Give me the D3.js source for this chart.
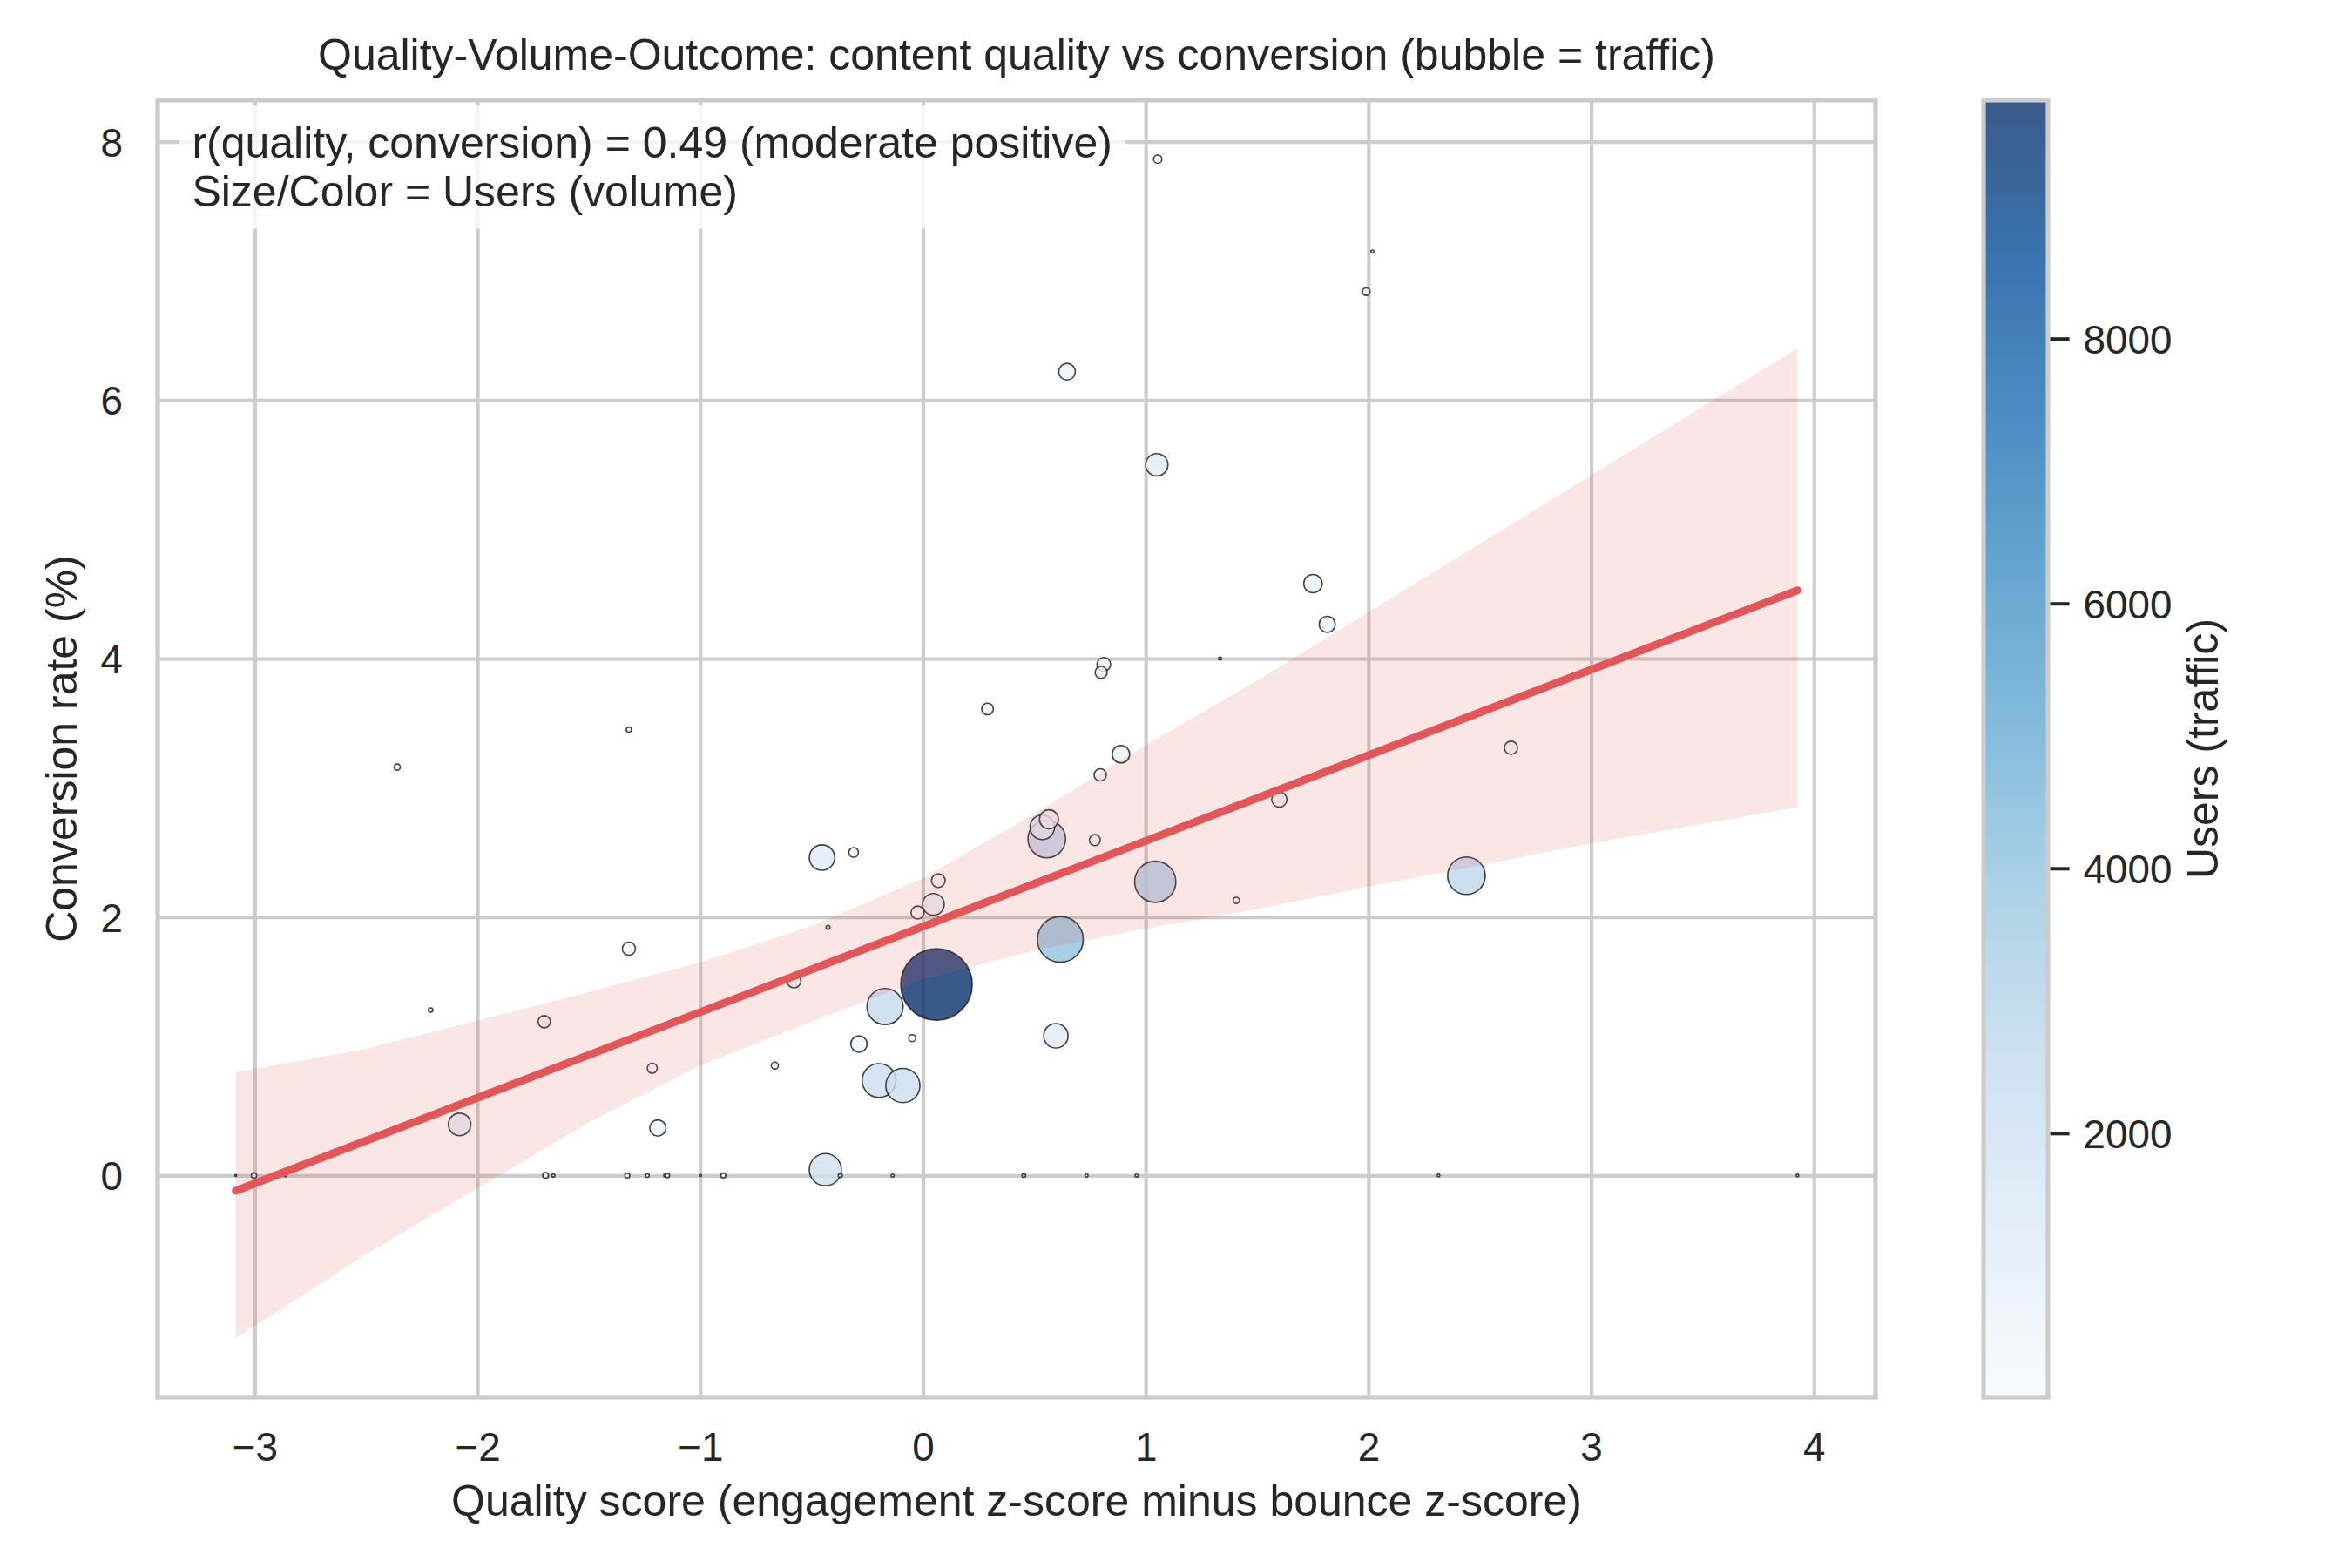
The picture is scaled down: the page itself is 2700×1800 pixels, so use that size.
<!DOCTYPE html>
<html>
<head>
<meta charset="utf-8">
<script src="https://cdn.jsdelivr.net/npm/d3@7"></script>
<style>
  body { margin: 0; background: #fff; }
  text { font-family: "Liberation Sans", Arial, sans-serif; fill: #262626; }
</style>
</head>
<body>
<div id="chart"></div>
<script>
// values
var quality = [-2.36, -1.32, -1.32, -2.21, -1.70, -1.215, -0.665, -2.08, -1.19,
               -0.453, -0.311, -0.426, -0.579, -0.287, -0.438,
               0.812, 0.80, 1.334, 0.29, 0.889, 0.796, 0.556, 0.536, 0.566, 0.772, 1.043, 1.407,
               0.069, 0.047, -0.024, 0.061, 0.617, -0.170, -0.048, 0.597, -0.197, -0.09,
               1.054, 2.018, 1.99, 0.647, 1.05, 1.751, 1.815, 1.60, 2.64, 2.44,
               -3.085, -3.003, -2.862, -1.694, -1.659, -1.327, -1.237, -1.158, -1.147,
               -0.999, -0.896, -0.371, -0.136, 0.453, 0.735, 0.959, 2.315, 3.926];
var conversion = [3.16, 3.45, 1.755, 1.28, 1.19, 0.83, 0.85, 0.395, 0.367,
                  2.46, 2.50, 1.92, 1.506, 1.017, 0.045,
                  3.956, 3.893, 4.0, 3.61, 3.26, 3.10, 2.604, 2.695, 2.756, 2.595, 2.273, 2.129,
                  2.282, 2.098, 2.035, 1.478, 1.827, 1.307, 1.063, 1.081, 0.735, 0.696,
                  7.865, 7.15, 6.84, 6.22, 5.50, 4.58, 4.265, 2.909, 3.31, 2.32,
                  0, 0, 0, 0, 0, 0, 0, 0, 0,
                  0, 0, 0, 0, 0, 0, 0, 0, 0];
var users = [72, 53, 331, 37, 288, 191, 94, 972, 504,
             1238, 178, 30, 377, 515, 1982,
             358, 276, 17, 260, 589, 288, 2721, 1154, 693, 230, 3251, 76,
             358, 905, 322, 9800, 4026, 2498, 94, 1146, 2193, 2239,
             133, 17, 111, 531, 957, 649, 498, 446, 331, 2709,
             6, 53, 13, 62, 18, 45, 24, 13, 37,
             9, 45, 30, 17, 25, 17, 17, 13, 13];

// bootstrap confidence band edges
var bandX    = [-3.085, -2.5, -2.0, -1.5, -1.0, -0.5, 0, 0.5, 1.0, 1.5, 2.0, 2.5, 3.0, 3.5, 3.926];
var bandHigh = [0.80, 0.98, 1.20, 1.42, 1.65, 1.93, 2.30, 2.80, 3.33, 3.83, 4.36, 4.89, 5.42, 5.95, 6.40];
var bandLow  = [-1.26, -0.61, -0.10, 0.41, 0.85, 1.19, 1.52, 1.74, 1.91, 2.06, 2.235, 2.40, 2.57, 2.72, 2.85];

var xTicks = [-3, -2, -1, 0, 1, 2, 3, 4];
var yTicks = [0, 2, 4, 6, 8];
var cbarTicks = [2000, 4000, 6000, 8000];
var blues = ["#f7fbff", "#deebf7", "#c6dbef", "#9ecae1", "#6baed6",
             "#4292c6", "#2171b5", "#08519c", "#08306b"];

var W = 2700, H = 1800,
    axL = 181, axR = 2153, axT = 115, axB = 1604,
    cbL = 2277, cbR = 2351,
    gridColor = "#cccccc",
    lineColor = "#e15759";

var pts = quality.map(function(q, i) { return {x: q, y: conversion[i], u: users[i]}; });

// matplotlib-like autoscale: data extent plus 5% margins
var xExt = d3.extent(quality), xPad = (xExt[1] - xExt[0]) * 0.05;
var yMin = Math.min(d3.min(conversion), d3.min(bandLow)),
    yMax = Math.max(d3.max(conversion), d3.max(bandHigh)),
    yPad = (yMax - yMin) * 0.05;

var x = d3.scaleLinear().domain([xExt[0] - xPad, xExt[1] + xPad]).range([axL, axR]);
var y = d3.scaleLinear().domain([yMin - yPad, yMax + yPad]).range([axB, axT]);

var uExt = d3.extent(users);
var color = d3.scaleLinear()
    .domain(blues.map(function(c, i) { return uExt[0] + (uExt[1] - uExt[0]) * i / (blues.length - 1); }))
    .range(blues)
    .interpolate(d3.interpolateRgb);
var radius = d3.scaleSqrt().domain([0, uExt[1]]).range([0, 41]);
var cbScale = d3.scaleLinear().domain(uExt).range([axB, axT]);

// least squares fit and correlation
var mx = d3.mean(quality), my = d3.mean(conversion);
var sxy = d3.sum(pts, function(p) { return (p.x - mx) * (p.y - my); }),
    sxx = d3.sum(pts, function(p) { return (p.x - mx) * (p.x - mx); }),
    syy = d3.sum(pts, function(p) { return (p.y - my) * (p.y - my); });
var slope = sxy / sxx, intercept = my - slope * mx;
var corr = sxy / Math.sqrt(sxx * syy);

var svg = d3.select("#chart").append("svg")
    .attr("width", W)
    .attr("height", H);

svg.append("rect").attr("width", W).attr("height", H).attr("fill", "#fff");

var minus = function(d) { return d < 0 ? "\u2212" + Math.abs(d) : String(d); };

// grid + tick labels
var xAxis = svg.append("g")
    .attr("transform", "translate(0," + axB + ")")
    .call(d3.axisBottom(x).tickValues(xTicks).tickSize(-(axB - axT)).tickPadding(40.5).tickFormat(minus));
var yAxis = svg.append("g")
    .attr("transform", "translate(" + axL + ",0)")
    .call(d3.axisLeft(y).tickValues(yTicks).tickSize(-(axR - axL)).tickPadding(40).tickFormat(minus));

[xAxis, yAxis].forEach(function(g) {
  g.select(".domain").remove();
  g.selectAll(".tick line").attr("stroke", gridColor).attr("stroke-width", 4.17);
  g.selectAll(".tick text").attr("font-size", 45.8).attr("fill", "#262626")
      .style("font-family", '"Liberation Sans", Arial, sans-serif');
});
yAxis.selectAll(".tick text").attr("dy", "0.36em");

// bubbles
svg.append("g").selectAll("circle")
    .data(pts)
    .enter().append("circle")
    .attr("cx", function(d) { return x(d.x); })
    .attr("cy", function(d) { return y(d.y); })
    .attr("r", function(d) { return radius(d.u); })
    .attr("fill", function(d) { return color(d.u); })
    .attr("fill-opacity", 0.8)
    .attr("stroke", "#111")
    .attr("stroke-opacity", 0.8)
    .attr("stroke-width", 1.6);

// confidence band
var band = d3.area()
    .x(function(d) { return x(d); })
    .y0(function(d, i) { return y(bandLow[i]); })
    .y1(function(d, i) { return y(bandHigh[i]); });
svg.append("path")
    .datum(bandX)
    .attr("d", band)
    .attr("fill", lineColor)
    .attr("fill-opacity", 0.15);

// regression line
svg.append("line")
    .attr("x1", x(xExt[0])).attr("y1", y(intercept + slope * xExt[0]))
    .attr("x2", x(xExt[1])).attr("y2", y(intercept + slope * xExt[1]))
    .attr("stroke", lineColor)
    .attr("stroke-width", 9)
    .attr("stroke-linecap", "round");

// spines
svg.append("rect")
    .attr("x", axL).attr("y", axT)
    .attr("width", axR - axL).attr("height", axB - axT)
    .attr("fill", "none")
    .attr("stroke", gridColor)
    .attr("stroke-width", 5.2);

// annotation box
var note = svg.append("g");
var noteBox = note.append("rect").attr("fill", "#fff").attr("fill-opacity", 0.8);
var noteText = note.append("text").attr("font-size", 50);
noteText.append("tspan").attr("x", 220.4).attr("y", 181)
    .text("r(quality, conversion) = " + d3.format(".2f")(corr) + " (moderate positive)");
noteText.append("tspan").attr("x", 220.4).attr("y", 236.6)
    .text("Size/Color = Users (volume)");
var bb = noteText.node().getBBox();
noteBox.attr("x", bb.x - 15).attr("y", bb.y - 15)
    .attr("width", bb.width + 30).attr("height", bb.height + 30)
    .attr("rx", 15).attr("ry", 15);

// title and axis labels
svg.append("text")
    .attr("x", (axL + axR) / 2).attr("y", 80)
    .attr("text-anchor", "middle").attr("font-size", 50)
    .text("Quality-Volume-Outcome: content quality vs conversion (bubble = traffic)");
svg.append("text")
    .attr("x", (axL + axR) / 2).attr("y", 1740)
    .attr("text-anchor", "middle").attr("font-size", 50)
    .text("Quality score (engagement z-score minus bounce z-score)");
svg.append("text")
    .attr("transform", "translate(88," + (axT + axB) / 2 + ") rotate(-90)")
    .attr("text-anchor", "middle").attr("font-size", 50)
    .text("Conversion rate (%)");

// colorbar
var grad = svg.append("defs").append("linearGradient")
    .attr("id", "cbar-gradient")
    .attr("x1", "0%").attr("y1", "100%")
    .attr("x2", "0%").attr("y2", "0%");
blues.forEach(function(c, i) {
  grad.append("stop")
      .attr("offset", (i / (blues.length - 1) * 100) + "%")
      .attr("stop-color", c)
      .attr("stop-opacity", 0.8);
});
svg.append("rect")
    .attr("x", cbL).attr("y", axT)
    .attr("width", cbR - cbL).attr("height", axB - axT)
    .attr("fill", "url(#cbar-gradient)")
    .attr("stroke", gridColor)
    .attr("stroke-width", 5.2);

var cbAxis = svg.append("g")
    .attr("transform", "translate(" + (cbR + 2.6) + ",0)")
    .call(d3.axisRight(cbScale).tickValues(cbarTicks).tickSize(22).tickPadding(16).tickFormat(d3.format("d")));
cbAxis.select(".domain").remove();
cbAxis.selectAll(".tick line").attr("stroke", "#262626").attr("stroke-width", 4);
cbAxis.selectAll(".tick text").attr("font-size", 45.8).attr("fill", "#262626").attr("dy", "0.36em")
    .style("font-family", '"Liberation Sans", Arial, sans-serif');

svg.append("text")
    .attr("transform", "translate(2546," + (axT + axB) / 2 + ") rotate(-90)")
    .attr("text-anchor", "middle").attr("font-size", 50)
    .text("Users (traffic)");
</script>
</body>
</html>
